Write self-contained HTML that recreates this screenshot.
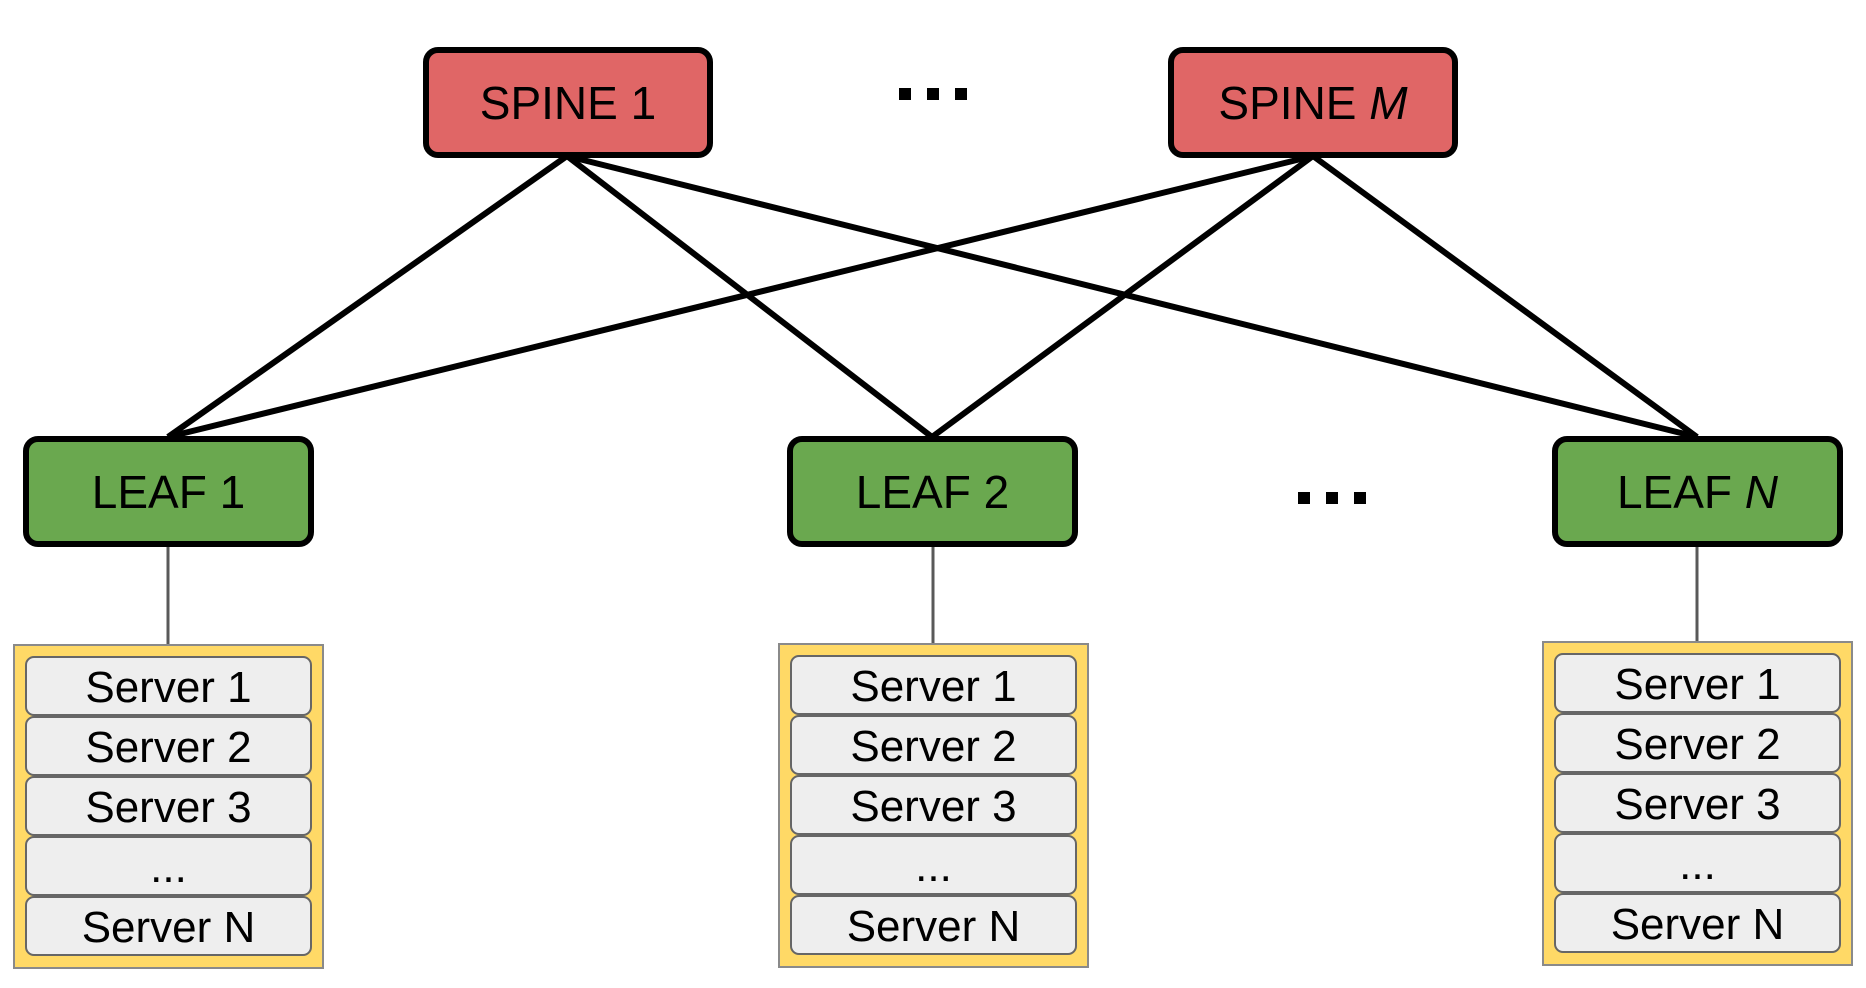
<!DOCTYPE html>
<html><head><style>
body{margin:0;background:#fff;width:1866px;height:988px;position:relative;overflow:hidden;font-family:"Liberation Sans",Arial,sans-serif;}
.n{position:absolute;box-sizing:border-box;border:6px solid #000;border-radius:15px;display:flex;align-items:center;justify-content:center;font-size:46px;color:#000;}
.sp{background:#e06666;top:47px;height:111px;width:290px;}
.lf{background:#6aa84f;top:436px;height:111px;width:291px;}
.stk{position:absolute;box-sizing:border-box;background:#ffd966;border:2px solid #8a8a8a;width:311px;height:325px;}
.row{position:absolute;left:10px;width:287px;height:60px;box-sizing:border-box;background:#eeeeee;border:2px solid #666;border-radius:9px;display:flex;align-items:center;justify-content:center;font-size:44px;line-height:1;padding-top:4px;}
.dot{position:absolute;width:12px;height:12px;background:#000;}
</style></head><body>
<svg width="1866" height="988" style="position:absolute;left:0;top:0">
<g stroke="#000" stroke-width="6" fill="none">
<line x1="567" y1="156" x2="168" y2="437"/>
<line x1="567" y1="156" x2="932" y2="437"/>
<line x1="567" y1="156" x2="1697" y2="437"/>
<line x1="1313" y1="156" x2="168" y2="437"/>
<line x1="1313" y1="156" x2="932" y2="437"/>
<line x1="1313" y1="156" x2="1697" y2="437"/>
</g>
<g stroke="#595959" stroke-width="3">
<line x1="168" y1="545" x2="168" y2="645"/>
<line x1="933" y1="545" x2="933" y2="643"/>
<line x1="1697" y1="545" x2="1697" y2="642"/>
</g>
</svg>
<div class="n sp" style="left:423px">SPINE 1</div>
<div class="n sp" style="left:1168px">SPINE&nbsp;<i>M</i></div>
<div class="dot" style="left:899px;top:88px"></div><div class="dot" style="left:927px;top:88px"></div><div class="dot" style="left:955px;top:88px"></div>
<div class="n lf" style="left:23px">LEAF 1</div>
<div class="n lf" style="left:787px">LEAF 2</div>
<div class="n lf" style="left:1552px">LEAF&nbsp;<i>N</i></div>
<div class="dot" style="left:1298px;top:492px"></div><div class="dot" style="left:1326px;top:492px"></div><div class="dot" style="left:1354px;top:492px"></div>

<div class="stk" style="left:13px;top:644px">
<div class="row" style="top:10px">Server 1</div>
<div class="row" style="top:70px">Server 2</div>
<div class="row" style="top:130px">Server 3</div>
<div class="row" style="top:190px">...</div>
<div class="row" style="top:250px">Server N</div>
</div>
<div class="stk" style="left:778px;top:643px">
<div class="row" style="top:10px">Server 1</div>
<div class="row" style="top:70px">Server 2</div>
<div class="row" style="top:130px">Server 3</div>
<div class="row" style="top:190px">...</div>
<div class="row" style="top:250px">Server N</div>
</div>
<div class="stk" style="left:1542px;top:641px">
<div class="row" style="top:10px">Server 1</div>
<div class="row" style="top:70px">Server 2</div>
<div class="row" style="top:130px">Server 3</div>
<div class="row" style="top:190px">...</div>
<div class="row" style="top:250px">Server N</div>
</div>
</body></html>
